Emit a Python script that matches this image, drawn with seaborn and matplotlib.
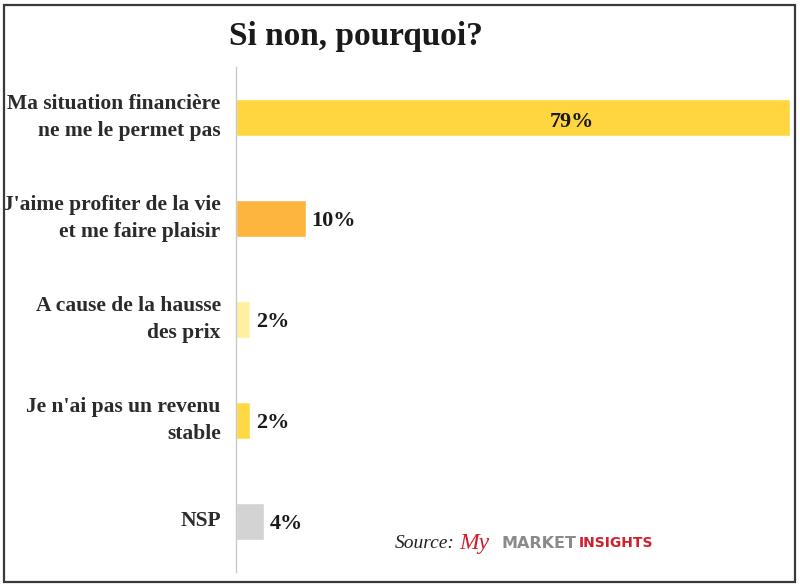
import matplotlib

matplotlib.use("Agg")
import matplotlib.pyplot as plt
import pandas as pd
import seaborn as sns
from matplotlib.patches import Rectangle

# data
categories = [
    "Ma situation financière\nne me le permet pas",
    "J'aime profiter de la vie\net me faire plaisir",
    "A cause de la hausse\ndes prix",
    "Je n'ai pas un revenu\nstable",
    "NSP",
]
values = [79, 10, 2, 2, 4]
value_labels = ["79%", "10%", "2%", "2%", "4%"]
bar_colors = ["#FFD640", "#FDB53F", "#FFEFA0", "#FFD944", "#D3D3D3"]

sns.set_theme(style="white")
plt.rcParams["font.family"] = ["Liberation Serif", "DejaVu Serif"]

df = pd.DataFrame({"reason": categories, "pct": values})

fig = plt.figure(figsize=(8, 5.86), dpi=100)
W, H = 800, 586
ax = fig.add_axes([236 / W, 1 - 572 / H, (790 - 236) / W, (572 - 67) / H])

sns.barplot(
    data=df, x="pct", y="reason", hue="reason", palette=bar_colors,
    orient="h", width=0.37, legend=False, ax=ax, saturation=1,
)
ax.set_xlim(0, 79)
ax.set_ylim(4.5, -0.5)
ax.set_xlabel("")
ax.set_ylabel("")
ax.set_xticks([])

for s in ["top", "right", "bottom"]:
    ax.spines[s].set_visible(False)
ax.spines["left"].set_color("#C8C8C8")
ax.spines["left"].set_linewidth(1.0)

ax.set_yticks(range(len(categories)))
ax.set_yticklabels(categories, fontsize=15.5, fontweight="bold", color="#2B2B2B",
                   linespacing=1.5)
for lbl in ax.get_yticklabels():
    lbl.set_va("center")
ax.tick_params(axis="y", which="major", length=0, pad=11)
ax.set_yticks([i - 0.5 for i in range(len(categories) + 1)], minor=True)
ax.tick_params(axis="y", which="minor", length=5, color="#C8C8C8", width=1)

# value labels
for i, (v, lab) in enumerate(zip(values, value_labels)):
    if i == 0:
        ax.text(v * 0.607, i + 0.04, lab, ha="center", va="center", fontsize=16,
                fontweight="bold", color="#1A1A1A")
    else:
        ax.text(v + 0.8, i + 0.02, lab, ha="left", va="center", fontsize=16,
                fontweight="bold", color="#1A1A1A")

# title
fig.text(356 / W, 1 - 36 / H, "Si non, pourquoi?", ha="center", va="center",
         fontsize=24, fontweight="bold", color="#1A1A1A")

# source
fig.text(395 / W, 1 - 543 / H, "Source:", ha="left", va="center", fontsize=14,
         style="italic", color="#222222")
fig.text(459 / W, 1 - 543 / H, "My", ha="left", va="center", fontsize=17,
         style="italic", color="#D0202E")
fig.text(502 / W, 1 - 543 / H, "MARKET", ha="left", va="center", fontsize=11.5,
         fontweight="bold", color="#8A8A8A", family="DejaVu Sans")
fig.text(579 / W, 1 - 543 / H, "INSIGHTS", ha="left", va="center", fontsize=10,
         fontweight="bold", color="#D0202E", family="DejaVu Sans")

# frame
fig.patches.append(Rectangle((4 / W, 4 / H), 791 / W, 577 / H, transform=fig.transFigure,
                             fill=False, edgecolor="#3A3A3A", linewidth=1.6))

fig.savefig("out.png", dpi=100, facecolor="white")
